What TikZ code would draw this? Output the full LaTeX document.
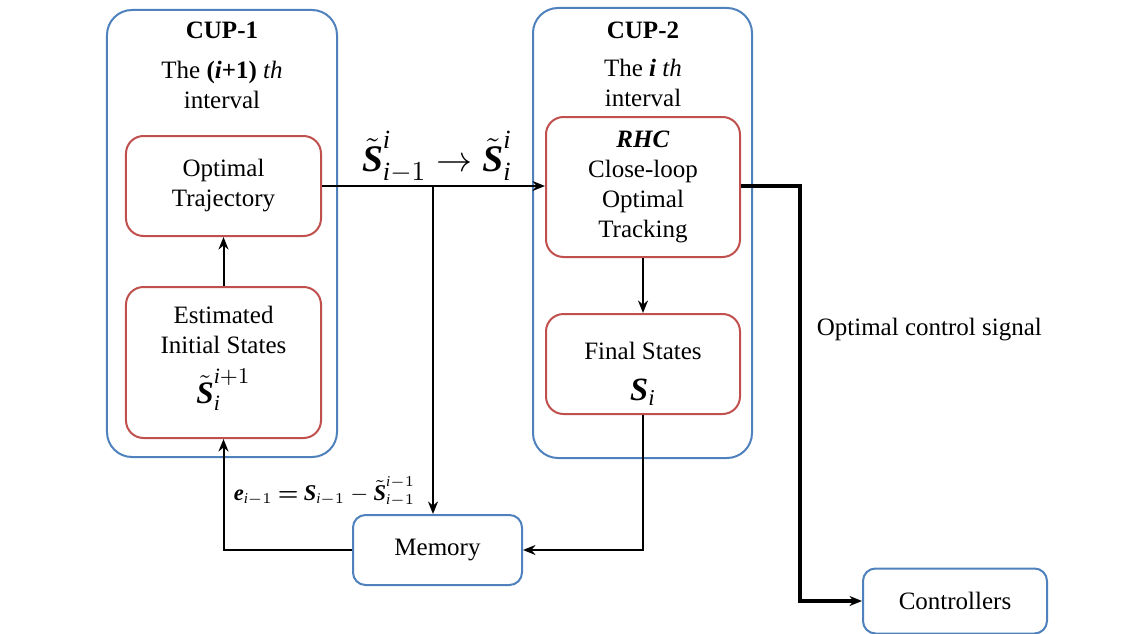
\documentclass[tikz,border=0pt]{standalone}
\usepackage{fontspec}
\setmainfont{LiberationSerif}[
  Extension=.ttf,
  UprightFont=*-Regular,
  BoldFont=*-Bold,
  ItalicFont=*-Italic,
  BoldItalicFont=*-BoldItalic]
\usepackage{amsmath}
\usetikzlibrary{positioning, arrows.meta}
\definecolor{cupblue}{HTML}{4F81BD}
\definecolor{stagered}{HTML}{C0504D}
\newcommand{\bS}{\text{\textbf{\textit{S}\/}}}
\newcommand{\ti}{\textit{i}}
\tikzset{
	cupnode/.style={
			shape=rectangle,
			draw=cupblue,
			line width=0.8pt,
			rounded corners=10pt,
			inner sep=0pt
		},
	stagenode/.style={
			shape=rectangle,
			draw=stagered,
			line width=0.8pt,
			rounded corners=7pt,
			fill=white,
			inner sep=0pt
		},
	blocknode/.style={
			shape=rectangle,
			draw=cupblue,
			line width=0.8pt,
			rounded corners=5pt,
			fill=white,
			inner sep=0pt
		}
}
\tikzset{
	flow/.style={draw=black, line width=0.8pt, -{Stealth[length=5pt,width=4pt]}},
	ctrlflow/.style={flow, line width=1.4pt}
}

\begin{document}
\begin{tikzpicture}[x=0.4pt, y=-0.4pt, font=\fontsize{10}{12}\selectfont]

  \useasboundingbox (0,0) rectangle (1142,634);

  \node[cupnode, minimum width=92pt, minimum height=178.8pt] (cup1) at (222,233.5) {};
  \node[cupnode, minimum width=87.6pt, minimum height=180pt] (cup2) at (642.5,233) {};

  \node[stagenode, minimum width=78pt, minimum height=40pt] (opt) at (223.5,186) {};
  \node[stagenode, minimum width=78pt, minimum height=60.4pt] (est) at (223.5,362.5) {};
  \node[stagenode, minimum width=77.6pt, minimum height=56pt] (rhc) at (643,187) {};
  \node[stagenode, minimum width=77.6pt, minimum height=40pt] (fin) at (643,364) {};
  \node[blocknode, minimum width=67.6pt, minimum height=28pt] (mem) at (437.5,550) {Memory};
  \node[blocknode, minimum width=73.6pt, minimum height=26pt] (ctrl) at (955,601) {Controllers};

  \node (cup1title) at (222,30) {\textbf{CUP-1}};
  \node[align=center] (cup1int) at (222,85) {The \textbf{(\textit{i}+1)} \textit{th}\\interval};
  \node (cup2title) at (643,30) {\textbf{CUP-2}};
  \node[align=center] (cup2int) at (643,82.5) {The \textbf{\textit{i}} \textit{th}\\interval};

  \node[align=center] (optlbl) at (opt) {Optimal\\Trajectory};
  \node[align=center] (estlbl) at (223.5,330) {Estimated\\Initial States};
  \node (estsym) at (223.5,390) {\fontsize{12.5}{14}\selectfont $\tilde{\bS}^{\ti+1}_{\ti}$};
  \node[align=center] (rhclbl) at (rhc) {\textbf{\textit{RHC}}\\Close-loop\\Optimal\\Tracking};
  \node (finlbl) at (643,351) {Final States};
  \node (finsym) at (643,392) {\fontsize{13}{15}\selectfont $\bS_{\ti}$};

  \coordinate (split) at (433,186);
  \coordinate (bend) at (800,186);

  \draw[flow] (est.north) -- (opt.south);
  \draw[flow] (opt.east) -- (opt.east -| rhc.west);
  \draw[flow] (split) -- (split |- mem.north);
  \draw[flow] (rhc.south) -- (fin.north);
  \draw[flow] (fin.south) |- (mem.east);
  \draw[flow] (mem.west) -| (est.south);
  \draw[ctrlflow] (rhc.east |- bend) -- (bend) |- (ctrl.west);

  \node (trans) at (437,157) {\fontsize{15}{18}\selectfont $\tilde{\bS}^{\ti}_{\ti-1}\rightarrow\tilde{\bS}^{\ti}_{\ti}$};
  \node[anchor=east] (err) at (424,492) {\fontsize{9}{11}\selectfont $\text{\textbf{\textit{e}\/}}_{\ti-1}\mathbin{\boldsymbol{=}}\bS_{\ti-1}-\tilde{\bS}^{\ti-1}_{\ti-1}$};
  \node[anchor=west] (sig) at (808,330) {Optimal control signal};

\end{tikzpicture}
\end{document}
